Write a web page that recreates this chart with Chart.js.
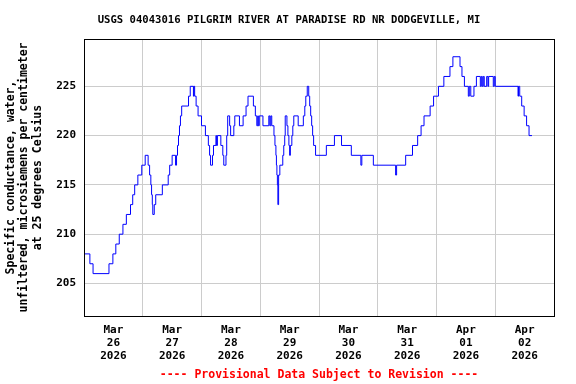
<!DOCTYPE html>
<html>
<head>
<meta charset="utf-8">
<script src="https://cdn.jsdelivr.net/npm/chart.js@4/dist/chart.umd.min.js"></script>
<style>
  html, body { margin: 0; padding: 0; background: #fff; }
  #wrap { width: 576px; height: 384px; }
</style>
</head>
<body>
<div id="wrap"><canvas id="chart" width="576" height="384"></canvas></div>
<script>
// hours since Mar 26 2026 00:00, value starts at that hour (step line)
const hours = [
  0, 2.4, 3.7, 10.2, 11.8, 13.0, 14.4, 15.9, 17.3, 19.0, 19.9, 20.7, 22.0, 23.6, 25.0,
  26.2, 26.8, 27.3, 27.6, 27.9, 28.1, 28.7, 29.3, 32.0, 34.4, 35.0, 36.0, 37.4, 37.8, 38.2,
  38.6, 39.0, 39.4, 39.9, 42.7, 43.4, 44.7, 44.9, 45.2, 45.8, 46.6, 48.0, 49.6, 50.8, 51.3,
  51.7, 52.5, 52.9, 53.9, 54.1, 54.5, 55.9, 56.7, 57.1, 58.0, 58.3, 58.7, 59.5, 59.9, 61.2,
  61.6, 63.5, 65.0, 66.2, 67.0, 69.2, 70.0, 70.6, 71.0, 71.2, 71.6, 73.1, 75.5, 75.9, 76.3,
  76.7, 77.6, 78.0, 78.4, 78.6, 78.8, 79.0, 79.2, 79.5, 80.0, 81.2, 81.6, 82.0, 82.2, 82.9,
  83.3, 83.7, 84.0, 84.3, 84.9, 85.3, 85.7, 87.5, 89.6, 90.2, 90.6, 91.2, 91.8, 92.2, 92.6,
  93.0, 93.4, 93.8, 94.6, 99.0, 102.3, 105.2, 109.2, 113.1, 113.5, 118.2, 127.3, 127.7, 131.4, 134.2,
  136.3, 137.7, 138.9, 141.4, 142.8, 144.8, 147.0, 149.5, 150.7, 153.6, 154.4, 155.4, 157.0, 157.4, 158.0,
  159.3, 160.3, 161.9, 162.3, 162.7, 163.1, 163.5, 164.5, 165.0, 165.3, 167.2, 167.6, 168.0, 177.3, 177.5,
  178.0, 178.8, 179.8, 180.8, 181.8, 183.0
]
const conductance = [
  208, 207, 206, 207, 208, 209, 210, 211, 212, 213, 214, 215, 216, 217, 218,
  217, 216, 215, 214, 213, 212, 213, 214, 215, 216, 217, 218, 217, 218, 219,
  220, 221, 222, 223, 224, 225, 224, 225, 224, 223, 222, 221, 220, 219, 218,
  217, 218, 219, 220, 219, 220, 219, 218, 217, 218, 220, 222, 221, 220, 221,
  222, 221, 222, 223, 224, 223, 222, 221, 222, 221, 222, 221, 222, 221, 222,
  221, 220, 219, 218, 217, 216, 215, 213, 216, 217, 218, 219, 220, 222, 221,
  220, 219, 218, 219, 220, 221, 222, 221, 222, 223, 224, 225, 224, 223, 222,
  221, 220, 219, 218, 219, 220, 219, 218, 217, 218, 217, 216, 217, 218, 219,
  220, 221, 222, 223, 224, 225, 226, 227, 228, 227, 226, 225, 224, 225, 224,
  225, 226, 225, 226, 225, 226, 225, 226, 225, 226, 225, 226, 225, 224, 225,
  224, 223, 222, 221, 220, 220
]

const gridHours = [0, 24, 48, 72, 96, 120, 144, 168, 192]
const labelHours = [12, 36, 60, 84, 108, 132, 156, 180]
const dayLabels = [
  ['Mar', '26', '2026'], ['Mar', '27', '2026'], ['Mar', '28', '2026'], ['Mar', '29', '2026'],
  ['Mar', '30', '2026'], ['Mar', '31', '2026'], ['Apr', '01', '2026'], ['Apr', '02', '2026']
]
const yTicks = [205, 210, 215, 220, 225]

const titleText = 'USGS 04043016 PILGRIM RIVER AT PARADISE RD NR DODGEVILLE, MI'
const footerText = '---- Provisional Data Subject to Revision ----'

const mono = 'DejaVu Sans Mono'

// plot frame + title (centred on page) + footer (centred on plot)
const frame = {
  id: 'frame',
  afterDatasetsDraw(chart) {
    const { ctx, chartArea: a } = chart
    ctx.save()
    ctx.strokeStyle = '#000'
    ctx.lineWidth = 1
    ctx.strokeRect(Math.round(a.left) + 0.5, Math.round(a.top) + 0.5,
      Math.round(a.right - a.left), Math.round(a.bottom - a.top))

    ctx.textAlign = 'center'
    ctx.textBaseline = 'middle'
    ctx.fillStyle = '#000'
    ctx.font = 'bold 10.6px "' + mono + '"'
    ctx.fillText(titleText, chart.width / 2 + 1, 20)

    ctx.fillStyle = '#ff0000'
    ctx.font = 'bold 11.5px "' + mono + '"'
    ctx.fillText(footerText, (a.left + a.right) / 2, 375)
    ctx.restore()
  }
}

new Chart(document.getElementById('chart'), {
  type: 'line',
  data: {
    datasets: [{
      data: hours.map((h, i) => ({ x: h, y: conductance[i] })),
      borderColor: '#0000ff',
      borderWidth: 1,
      pointRadius: 0,
      stepped: true,
      fill: false
    }]
  },
  options: {
    responsive: false,
    animation: false,
    layout: { padding: { left: 0, right: 22, top: 39, bottom: 16 } },
    plugins: {
      legend: { display: false },
      tooltip: { enabled: false }
    },
    scales: {
      x: {
        type: 'linear',
        min: 0,
        max: 192,
        afterBuildTicks: s => {
          s.ticks = gridHours.concat(labelHours).sort((a, b) => a - b).map(v => ({ value: v }))
        },
        afterFit: s => { s.height = 52 },
        border: { display: false },
        grid: {
          drawTicks: false,
          color: c => (c.tick && gridHours.includes(c.tick.value)) ? '#cccccc' : 'rgba(0,0,0,0)',
          lineWidth: 1
        },
        ticks: {
          autoSkip: false,
          maxRotation: 0,
          padding: 8,
          color: '#000',
          font: { family: mono, size: 11, weight: 'bold', lineHeight: 1.17 },
          callback: v => {
            const i = labelHours.indexOf(v)
            return i >= 0 ? dayLabels[i] : ''
          }
        }
      },
      y: {
        min: 201.7,
        max: 229.8,
        afterBuildTicks: s => { s.ticks = yTicks.map(v => ({ value: v })) },
        afterFit: s => { s.width = 84 },
        border: { display: false },
        grid: { drawTicks: false, color: '#cccccc', lineWidth: 1 },
        ticks: {
          padding: 8,
          color: '#000',
          font: { family: mono, size: 11, weight: 'bold' }
        },
        title: {
          display: true,
          text: ['Specific conductance, water,', 'unfiltered, microsiemens per centimeter', 'at 25 degrees Celsius'],
          color: '#000',
          font: { family: mono, size: 11.5, weight: 'bold', lineHeight: 1.17 },
          padding: { top: 4.3, bottom: 0 }
        }
      }
    }
  },
  plugins: [frame]
})
</script>
</body>
</html>
